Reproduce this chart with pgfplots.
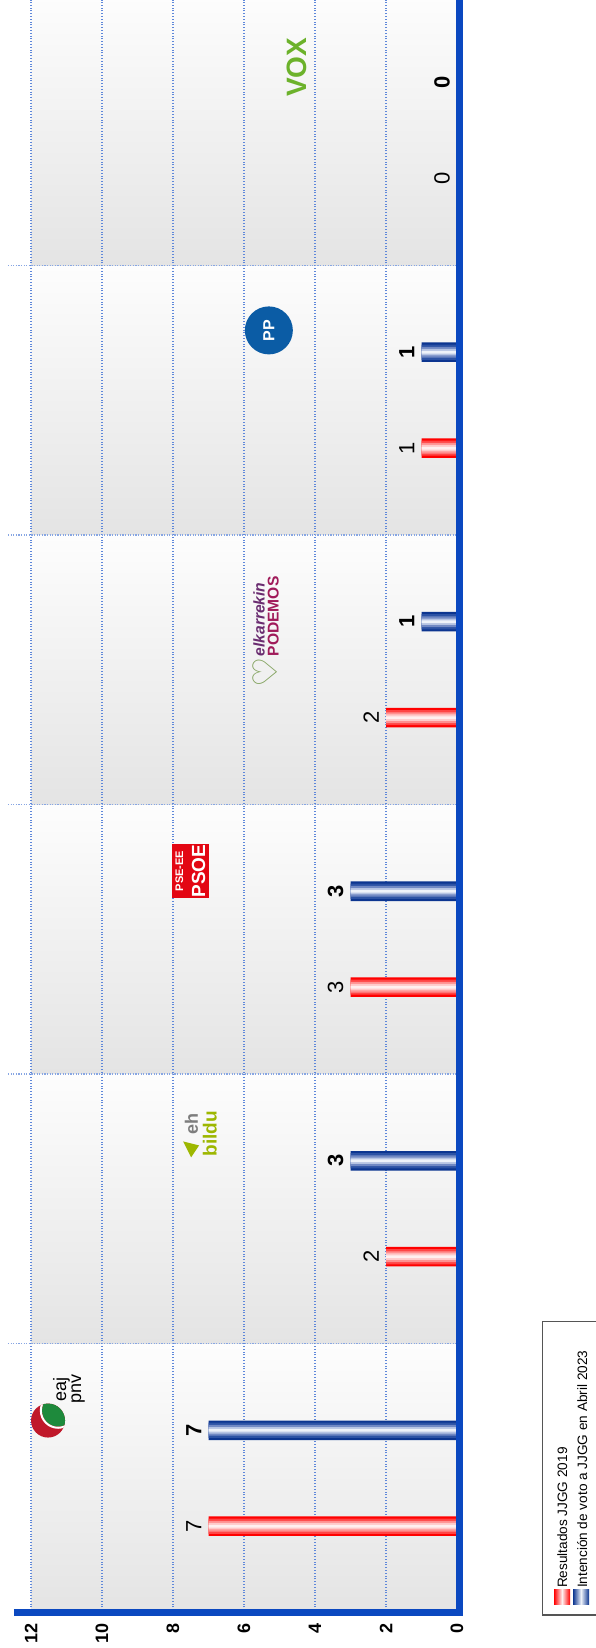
\documentclass[border=0pt]{standalone}
\usepackage{fontspec}
\setmainfont{Liberation Sans}
\newfontfamily\dejavu{DejaVu Sans}
\usepackage{pgfplots}
\usepackage{pgfplotstable}
\pgfplotsset{compat=1.18}
\definecolor{axisblue}{HTML}{0B48C0}
\definecolor{gridblue}{HTML}{5F88DA}
\definecolor{bandgray}{HTML}{E4E4E4}
\definecolor{bandwhite}{HTML}{FDFDFD}
\definecolor{redA}{HTML}{FF0000}
\definecolor{redB}{HTML}{FF4545}
\definecolor{redC}{HTML}{FF9090}
\definecolor{redD}{HTML}{FFCACA}
\definecolor{redE}{HTML}{FFF0F0}
\definecolor{blueA}{HTML}{0C3590}
\definecolor{blueB}{HTML}{2C52A4}
\definecolor{blueC}{HTML}{7189C4}
\definecolor{blueD}{HTML}{B6C4E3}
\definecolor{blueE}{HTML}{EEF2F9}
\definecolor{pnvred}{HTML}{C0182A}
\definecolor{pnvgreen}{HTML}{1E8A3C}
\definecolor{ehgray}{HTML}{7D7D7D}
\definecolor{bildugreen}{HTML}{9DB700}
\definecolor{psoered}{HTML}{E30613}
\definecolor{podpurple}{HTML}{6A2C70}
\definecolor{podred}{HTML}{A01B5A}
\definecolor{heartgreen}{HTML}{7FA05A}
\definecolor{ppblue}{HTML}{0B5CA5}
\definecolor{voxgreen}{HTML}{6CB22B}
\definecolor{legframe}{HTML}{555555}

\pgfplotstableread{
cat red blue
0 7 7
1 2 3
2 3 3
3 2 1
4 1 1
5 0 0
}\seats

\begin{document}
\begin{tikzpicture}
\begin{axis}[
  set layers,
  xbar,
  scale only axis,
  width=213pt, height=806.5pt,
  x dir=reverse,
  xmin=0, xmax=12,
  ymin=-0.5, ymax=5.485,
  axis line style={draw=none},
  xtick={0,2,4,6,8,10,12},
  ytick=\empty,
  major tick length=0pt,
  xmajorgrids,
  grid style={gridblue, line width=0.55pt, dash pattern=on 0.5pt off 0.9pt},
  /pgf/number format/assume math mode=true,
  xticklabel style={yshift=-1.5pt, rotate=90, anchor=east, font=\bfseries\fontsize{9}{10}\selectfont},
  clip=false,
]
\begin{pgfonlayer}{axis background}
  \fill[top color=bandwhite, bottom color=bandgray] (axis cs:12,-0.5) rectangle (axis cs:0,0.5);
  \fill[top color=bandwhite, bottom color=bandgray] (axis cs:12,0.5) rectangle (axis cs:0,1.5);
  \fill[top color=bandwhite, bottom color=bandgray] (axis cs:12,1.5) rectangle (axis cs:0,2.5);
  \fill[top color=bandwhite, bottom color=bandgray] (axis cs:12,2.5) rectangle (axis cs:0,3.5);
  \fill[top color=bandwhite, bottom color=bandgray] (axis cs:12,3.5) rectangle (axis cs:0,4.5);
  \fill[top color=bandwhite, bottom color=bandgray] (axis cs:12,4.5) rectangle (axis cs:0,5.5);
\end{pgfonlayer}
\begin{pgfonlayer}{axis grid}
  \draw[gridblue!75, line width=0.9pt, dash pattern=on 0.6pt off 0.7pt] (axis cs:12.65,0.5) -- (axis cs:0,0.5);
  \draw[gridblue!75, line width=0.9pt, dash pattern=on 0.6pt off 0.7pt] (axis cs:12.65,1.5) -- (axis cs:0,1.5);
  \draw[gridblue!75, line width=0.9pt, dash pattern=on 0.6pt off 0.7pt] (axis cs:12.65,2.5) -- (axis cs:0,2.5);
  \draw[gridblue!75, line width=0.9pt, dash pattern=on 0.6pt off 0.7pt] (axis cs:12.65,3.5) -- (axis cs:0,3.5);
  \draw[gridblue!75, line width=0.9pt, dash pattern=on 0.6pt off 0.7pt] (axis cs:12.65,4.5) -- (axis cs:0,4.5);
\end{pgfonlayer}

% Resultados JJGG 2019 (red, layered for the cylinder look)
\addplot[bar shift=-0.178, bar width=0.0724, draw=none, fill=redA,
  point meta=x, nodes near coords,
  every node near coord/.append style={rotate=90, anchor=south, text=black, font=\fontsize{11}{12}\selectfont}]
  table[x=red, y=cat] {\seats};
\addplot[forget plot, bar shift=-0.178, bar width=0.056, draw=none, fill=redB] table[x=red, y=cat] {\seats};
\addplot[forget plot, bar shift=-0.178, bar width=0.040, draw=none, fill=redC] table[x=red, y=cat] {\seats};
\addplot[forget plot, bar shift=-0.178, bar width=0.024, draw=none, fill=redD] table[x=red, y=cat] {\seats};
\addplot[forget plot, bar shift=-0.178, bar width=0.010, draw=none, fill=redE] table[x=red, y=cat] {\seats};
% Intencion de voto (blue)
\addplot[bar shift=0.178, bar width=0.0724, draw=none, fill=blueA,
  point meta=x, nodes near coords,
  every node near coord/.append style={rotate=90, anchor=south, text=black, font=\bfseries\fontsize{11}{12}\selectfont}]
  table[x=blue, y=cat] {\seats};
\addplot[forget plot, bar shift=0.178, bar width=0.056, draw=none, fill=blueB] table[x=blue, y=cat] {\seats};
\addplot[forget plot, bar shift=0.178, bar width=0.040, draw=none, fill=blueC] table[x=blue, y=cat] {\seats};
\addplot[forget plot, bar shift=0.178, bar width=0.024, draw=none, fill=blueD] table[x=blue, y=cat] {\seats};
\addplot[forget plot, bar shift=0.178, bar width=0.010, draw=none, fill=blueE] table[x=blue, y=cat] {\seats};

% axis lines
\draw[axisblue, line width=3.5pt] ([xshift=-8.5pt]axis cs:12,-0.5) -- ([xshift=1.25pt]axis cs:0,-0.5) -- ([xshift=1.25pt]axis cs:0,5.6);

% legend (rotated like the chart)
\draw[legframe, line width=0.6pt] ([xshift=42.85pt,yshift=-1pt]axis cs:0,-0.5) rectangle ([xshift=78pt,yshift=145.65pt]axis cs:0,-0.5);
\fill[left color=redA, right color=redA, middle color=redE] ([xshift=48.5pt,yshift=4pt]axis cs:0,-0.5) rectangle ([xshift=56.5pt,yshift=11.5pt]axis cs:0,-0.5);
\fill[left color=blueA, right color=blueA, middle color=blueE] ([xshift=58pt,yshift=4pt]axis cs:0,-0.5) rectangle ([xshift=66pt,yshift=11.5pt]axis cs:0,-0.5);
\node[rotate=90, anchor=west, inner sep=0pt, font=\fontsize{6.8}{8}\selectfont] at ([xshift=52.6pt,yshift=12.3pt]axis cs:0,-0.5) {Resultados JJGG 2019};
\node[rotate=90, anchor=west, inner sep=0pt, font=\fontsize{6.8}{8}\selectfont] at ([xshift=62.6pt,yshift=12.3pt]axis cs:0,-0.5) {Intención de voto a JJGG en Abril 2023};

% party logos
% PNV
\fill[pnvred] (axis cs:11.52,0.214) circle (8.5pt);
\begin{scope}
  \clip (axis cs:11.52,0.214) circle (8.5pt);
  \fill[pnvgreen] ([xshift=5pt,yshift=5pt]axis cs:11.52,0.214) circle (8pt);
  \draw[white, line width=1pt] ([xshift=5pt,yshift=5pt]axis cs:11.52,0.214) circle (8.6pt);
\end{scope}
\node[rotate=90, align=center, inner sep=0pt, font=\fontsize{9}{7.5}\selectfont] at (axis cs:10.93,0.33) {eaj\\pnv};
% EH Bildu
\node[rotate=90, inner sep=0pt, text=ehgray, font=\bfseries\fontsize{9}{9}\selectfont] at (axis cs:7.48,1.314) {eh};
\node[rotate=90, inner sep=0pt, text=bildugreen, font=\bfseries\fontsize{9.5}{9}\selectfont] at (axis cs:6.96,1.279) {bildu};
\fill[bildugreen] ([xshift=-4pt,yshift=4pt]axis cs:7.49,1.22) -- ([xshift=4pt,yshift=2pt]axis cs:7.49,1.22) -- ([xshift=0pt,yshift=-4pt]axis cs:7.49,1.22) -- cycle;
% PSE-EE PSOE
\node[rotate=90, fill=psoered, text=white, font=\bfseries, minimum width=25.5pt, minimum height=18.5pt, align=center, inner sep=0.5pt] at (axis cs:7.51,2.253)
  {{\fontsize{5.5}{5.5}\selectfont PSE-EE}\\[-1pt]{\fontsize{9.5}{9}\selectfont PSOE}};
% Elkarrekin Podemos
\node[rotate=90, align=left, inner sep=0pt, font=\bfseries\fontsize{7.8}{7}\selectfont] at (axis cs:5.38,3.198)
  {\textcolor{podpurple}{\itshape elkarrekin}\\\textcolor{podred}{PODEMOS}};
\node[rotate=90, inner sep=0pt, text=heartgreen, font=\dejavu\bfseries\fontsize{17}{17}\selectfont] at (axis cs:5.41,2.99) {♡};
% PP
\node[rotate=90, circle, fill=ppblue, minimum size=24pt, inner sep=0pt, text=white, font=\bfseries\fontsize{8}{8}\selectfont] at (axis cs:5.30,4.259) {PP};
% VOX
\node[rotate=90, inner sep=0pt, text=voxgreen, font=\bfseries\fontsize{14}{14}\selectfont] at (axis cs:4.51,5.235) {VOX};

\coordinate (BL) at (axis cs:12,-0.5);
\coordinate (TR) at (axis cs:0,5.485);
\end{axis}
\pgfresetboundingbox
\path[use as bounding box] ([xshift=-15.5pt,yshift=-17.5pt]BL) rectangle ([xshift=69pt]TR);
\end{tikzpicture}
\end{document}
